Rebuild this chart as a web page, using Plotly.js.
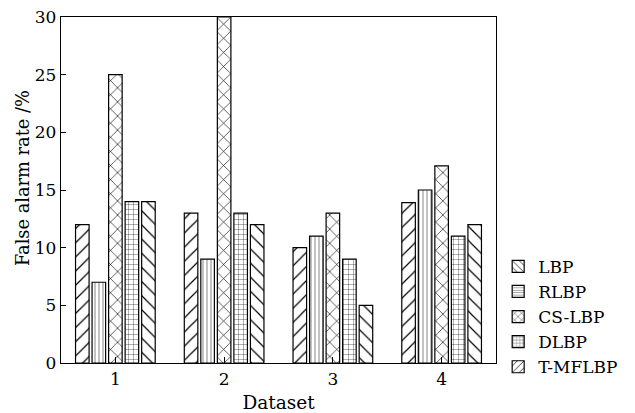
<!DOCTYPE html>
<html>
<head>
<meta charset="utf-8">
<script src="https://cdn.plot.ly/plotly-3.0.1.min.js"></script>
<style>html,body{margin:0;padding:0;background:#fff;}#chart{width:635px;height:413px;}</style>
</head>
<body>
<div id="chart"></div>
<script>
var datasets = ['1', '2', '3', '4'];
var seriesNames = ['LBP', 'RLBP', 'CS-LBP', 'DLBP', 'T-MFLBP'];
var LBP = [12, 13, 10, 13.9];
var RLBP = [7, 9, 11, 15];
var CSLBP = [25, 30, 13, 17.1];
var DLBP = [14, 13, 9, 11];
var TMFLBP = [14, 12, 5, 12];
var yTicks = [0, 5, 10, 15, 20, 25, 30];

var seriesValues = [LBP, RLBP, CSLBP, DLBP, TMFLBP];
var barShapes = ['/', '|', 'x', '+', '\\'];
var barSizes = [10, 4, 10, 5, 10];
var legendShapes = ['\\', '-', 'x', '+', '/'];
var legendSizes = [6, 3, 6, 4, 6];

var font = 'DejaVu Serif, serif';
var traces = [];
seriesNames.forEach(function (name, i) {
  traces.push({
    type: 'bar', name: name, x: datasets, y: seriesValues[i],
    showlegend: false, cliponaxis: true,
    marker: {
      color: '#fff',
      line: {color: '#000', width: 1.2},
      pattern: {shape: barShapes[i], size: barSizes[i], solidity: 0.12, fgcolor: '#000', bgcolor: '#fff', fillmode: 'replace'}
    }
  });
});
seriesNames.forEach(function (name, i) {
  traces.push({
    type: 'bar', name: name, x: [null], y: [null], xaxis: 'x2', yaxis: 'y2',
    showlegend: true,
    marker: {
      color: '#fff',
      line: {color: '#000', width: 1.2},
      pattern: {shape: legendShapes[i], size: legendSizes[i], solidity: 0.15, fgcolor: '#000', bgcolor: '#fff', fillmode: 'replace'}
    }
  });
});

var layout = {
  width: 635, height: 413,
  margin: {l: 61, r: 130, t: 17, b: 50},
  paper_bgcolor: '#fff', plot_bgcolor: '#fff',
  font: {family: font, size: 17, color: '#000'},
  barmode: 'group', bargap: 0.24, bargroupgap: 0.18,
  showlegend: true,
  legend: {x: 1.005, xanchor: 'left', y: 0.33, yanchor: 'top', bgcolor: 'rgba(0,0,0,0)',
           font: {family: font, size: 17, color: '#000'}, tracegroupgap: 0, itemwidth: 30},
  xaxis: {
    type: 'category', range: [-0.5, 3.5], showgrid: false, zeroline: false,
    showline: true, linecolor: '#000', linewidth: 1.2, mirror: true,
    ticks: 'inside', ticklen: 6, tickcolor: '#000', tickwidth: 1,
    tickfont: {family: font, size: 17},
    title: {text: 'Dataset', font: {family: font, size: 18.5}, standoff: 10}
  },
  yaxis: {
    range: [0, 30], tickvals: yTicks, ticktext: yTicks.map(String), showgrid: false, zeroline: false,
    showline: true, linecolor: '#000', linewidth: 1.2, mirror: true,
    ticks: 'inside', ticklen: 5, tickcolor: '#000', tickwidth: 1,
    tickfont: {family: font, size: 17}
  },
  annotations: [{
    text: 'False alarm rate /%', xref: 'paper', yref: 'paper',
    x: -0.087, y: 0.535, xanchor: 'center', yanchor: 'middle', textangle: -90,
    showarrow: false, font: {family: font, size: 17.8, color: '#000'}
  }],
  xaxis2: {visible: false, overlaying: 'x', range: [0, 1]},
  yaxis2: {visible: false, overlaying: 'y', range: [0, 1]}
};

Plotly.newPlot('chart', traces, layout, {displayModeBar: false, staticPlot: true});
</script>
</body>
</html>
